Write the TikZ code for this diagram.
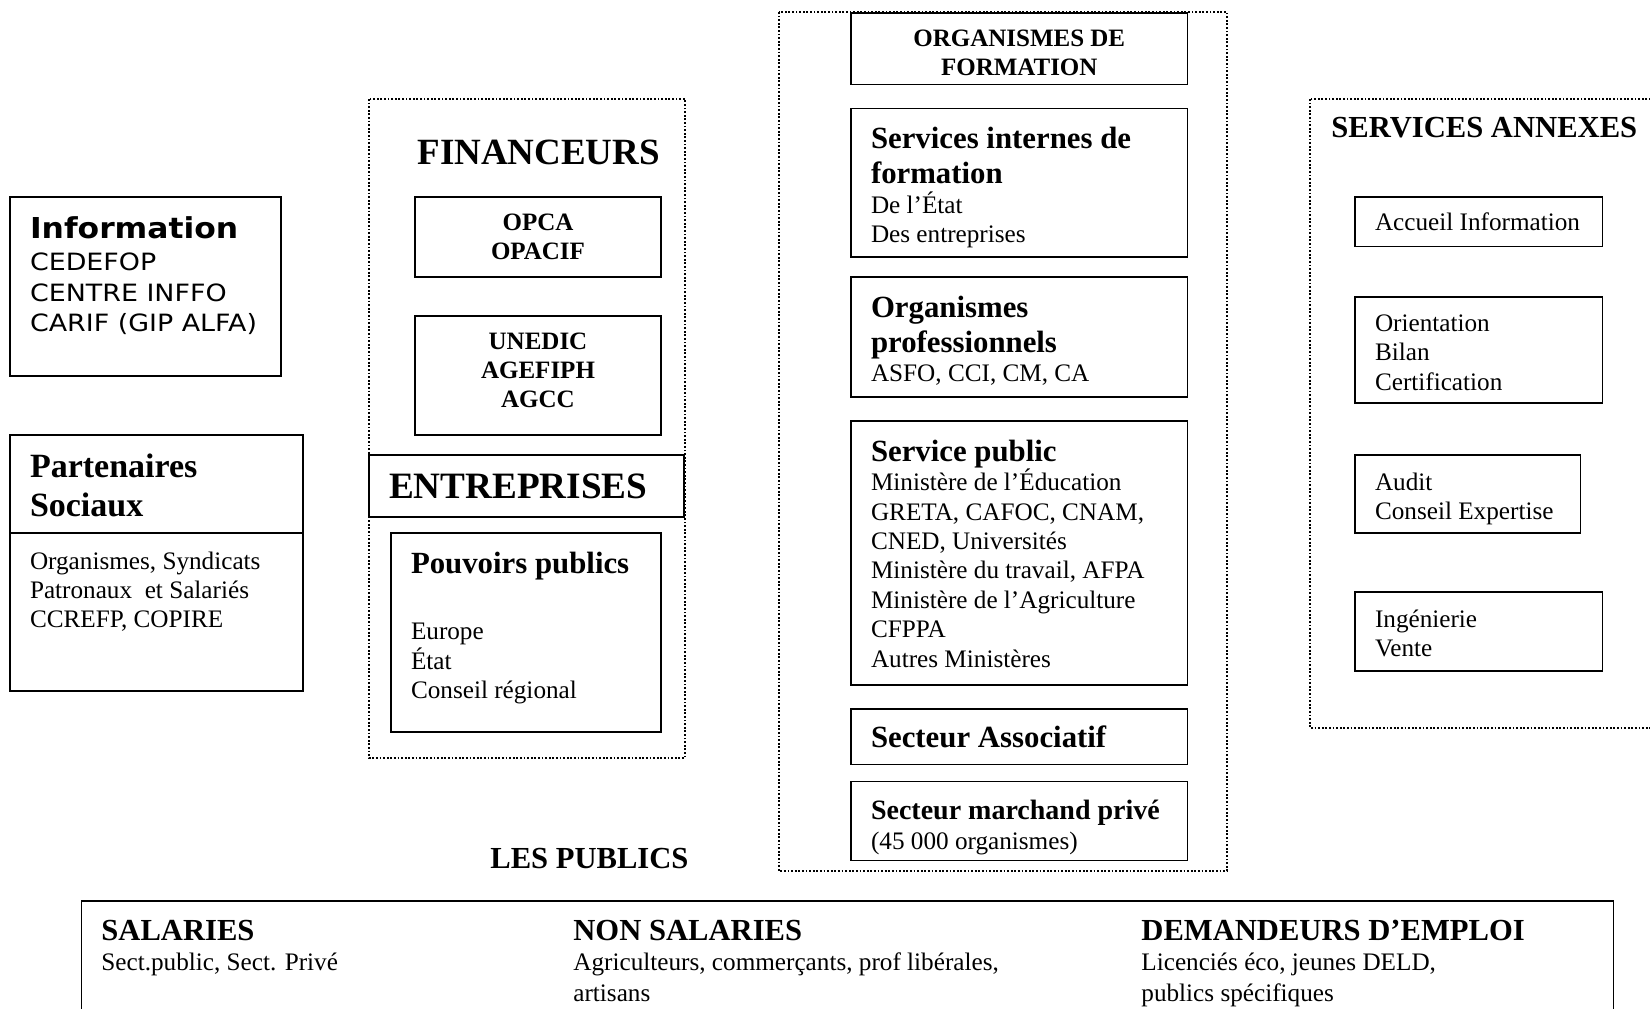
\documentclass[tikz,border=0pt]{standalone}
\usepackage{fontspec}
\setmainfont{Liberation Serif}
\newfontfamily\verdfont[FakeStretch=1.13]{DejaVu Sans}
\newfontfamily\verdbold[FakeStretch=1.09]{DejaVu Sans Bold}
\usetikzlibrary{positioning}

\newcommand{\boxbody}[3]{\parbox[t][#2][t]{#1}{\raggedright #3}}
\newcommand{\cbody}[3]{\parbox[t][#2][t]{#1}{\centering\fontsize{12.5}{14.7}\selectfont\bfseries #3}}
\newcommand{\bodyfont}{\fontsize{12.6}{14.7}\selectfont}
\newcommand{\headfont}{\fontsize{15.4}{17.4}\selectfont\bfseries}

\tikzset{
  box/.style={draw, line width=0.7pt, anchor=north west, inner xsep=10pt, inner ysep=9.5pt, outer sep=0pt},
  cbox/.style={box, inner ysep=8.3pt},
  annexbox/.style={box, inner ysep=8.8pt},
  group/.style={draw, line width=0.9pt, dash pattern=on 0.9pt off 0.9pt},
  title/.style={anchor=base west, inner sep=0pt, font=\fontsize{15.3}{17}\selectfont\bfseries},
}

\begin{document}
\begin{tikzpicture}[x=0.5pt, y=-0.5pt]
\useasboundingbox (0,0) rectangle (1650,1008);

\node[box, inner ysep=10pt] (info) at (10,197) {\boxbody{115.5pt}{69.5pt}{%
  {\verdbold\fontsize{14.4}{17}\selectfont Information\par}\vspace{0.7pt}
  \verdfont\fontsize{11.9}{15.2}\selectfont CEDEFOP\\CENTRE INFFO\\CARIF (GIP ALFA)}};
\node[box] (parttop) at (10,435) {\boxbody{126.5pt}{30pt}{\fontsize{17}{19.5}\selectfont\bfseries Partenaires\\Sociaux}};
\node[box] (partbot) at (parttop.south west) {\boxbody{126.5pt}{60pt}{\fontsize{12.6}{14.5}\selectfont
  Organismes, Syndicats\\Patronaux\ \ et Salariés\\CCREFP, COPIRE}};

% financeurs
\draw[group] (369,99) rectangle (685,758);
\node[title, font=\fontsize{18.5}{20}\selectfont\bfseries] (fin) at (417,164) {FINANCEURS};
\node[cbox] (opca) at (415,197) {\cbody{103pt}{23.4pt}{OPCA\\OPACIF}};
\node[cbox, below=19.5pt of opca] (unedic) {\cbody{103pt}{42.9pt}{UNEDIC\\AGEFIPH\\AGCC}};
\node[box, inner ysep=9.3pt] (entr) at (369,455) {\boxbody{137.5pt}{12.4pt}{\fontsize{18.6}{20}\selectfont\bfseries ENTREPRISES}};
\node[box] (pouv) at (391,533) {\boxbody{115pt}{80.5pt}{{\headfont Pouvoirs publics\par}\vspace{18.5pt}%
  \bodyfont Europe\\État\\Conseil régional}};

% organismes de formation
\draw[group] (779,12) rectangle (1227,871);
\node[cbox] (orgform) at (851,13) {\cbody{148.25pt}{19.15pt}{ORGANISMES DE\\FORMATION}};
\node[box, below=12pt of orgform] (servint) {\boxbody{148.25pt}{55.25pt}{{\headfont Services internes de\\formation\par}%
  \bodyfont De l’État\\Des entreprises}};
\node[box, below=10pt of servint] (orgpro) {\boxbody{148.25pt}{41pt}{{\headfont Organismes\\professionnels\par}%
  \bodyfont ASFO, CCI, CM, CA}};
\node[box, below=12pt of orgpro] (servpub) {\boxbody{148.25pt}{113pt}{{\headfont Service public\par}%
  \bodyfont Ministère de l’Éducation\\GRETA, CAFOC, CNAM,\\CNED, Universités\\Ministère du travail, AFPA\\%
  Ministère de l’Agriculture\\CFPPA\\Autres Ministères}};
\node[box, inner ysep=8.45pt, below=12pt of servpub] (secasso) {\boxbody{148.25pt}{10.6pt}{\headfont Secteur Associatif}};
\node[box, below=8.5pt of secasso] (secmarch) {\boxbody{148.25pt}{20.5pt}{{\fontsize{14}{16}\selectfont\bfseries Secteur marchand privé\par}%
  \bodyfont (45 000 organismes)}};

% services annexes
\draw[group] (1310,99) rectangle (1665,728);
\node[title] (annex) at (1331,137) {SERVICES ANNEXES};
\node[annexbox, inner ysep=7.95pt] (accueil) at (1355,197) {\boxbody{103.6pt}{8.8pt}{\bodyfont Accueil Information}};
\node[annexbox] (orient) at (1355,297) {\boxbody{103.6pt}{35.4pt}{\bodyfont Orientation\\Bilan\\Certification}};
\node[annexbox] (audit) at (1355,455) {\boxbody{92.8pt}{21.4pt}{\bodyfont Audit\\Conseil Expertise}};
\node[annexbox] (ingen) at (1355,592) {\boxbody{103.6pt}{21.9pt}{\bodyfont Ingénierie\\Vente}};

% les publics
\node[title] (publics) at (490,868) {LES PUBLICS};
\node[draw, line width=0.7pt, anchor=north west, inner sep=0pt, minimum width=766pt, minimum height=70pt] (pubbox) at (81,901) {};
\draw[line width=1.4pt] (pubbox.north west) -- (pubbox.north east);
\node[anchor=base west, inner sep=0pt] (sal) at (101,940) {\boxbody{200pt}{40pt}{{\fontsize{15.3}{17}\selectfont\bfseries SALARIES\par}%
  \fontsize{12.6}{15.3}\selectfont Sect.public, Sect. Privé}};
\node[anchor=base west, inner sep=0pt] (nonsal) at (573,940) {\boxbody{240pt}{40pt}{{\fontsize{15.3}{17}\selectfont\bfseries NON SALARIES\par}%
  \fontsize{12.6}{15.3}\selectfont Agriculteurs, commerçants, prof libérales,\\artisans}};
\node[anchor=base west, inner sep=0pt] (dem) at (1141,940) {\boxbody{230pt}{40pt}{{\fontsize{15.3}{17}\selectfont\bfseries DEMANDEURS D’EMPLOI\par}%
  \fontsize{12.6}{15.3}\selectfont Licenciés éco, jeunes DELD,\\publics spécifiques}};
\end{tikzpicture}
\end{document}
